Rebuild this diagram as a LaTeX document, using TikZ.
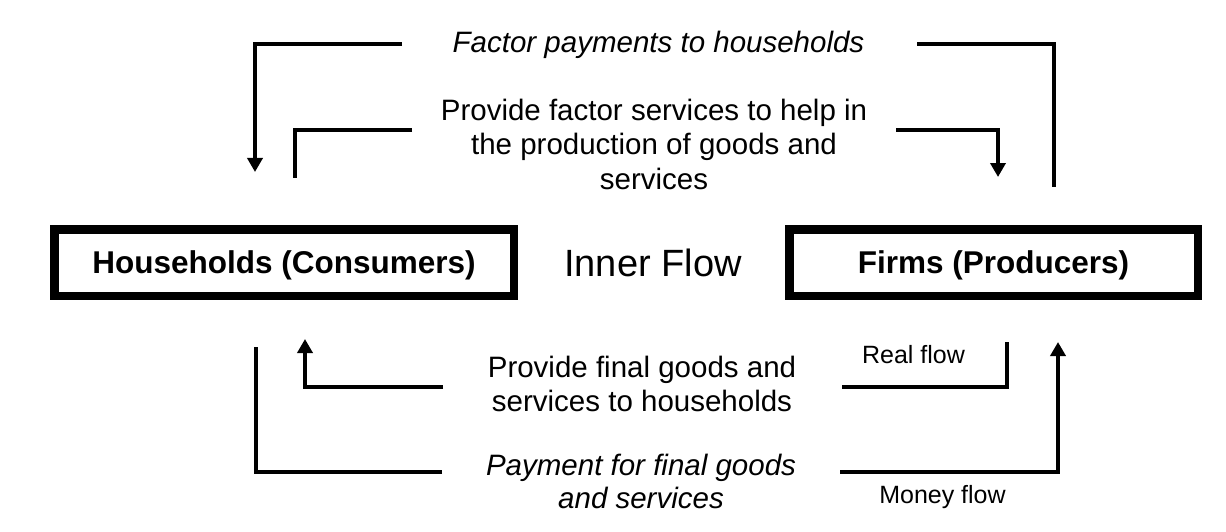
\documentclass[tikz,border=0pt]{standalone}
\usepackage{fontspec}
\setmainfont{Liberation Sans}
\usetikzlibrary{arrows.meta}
\begin{document}
\begin{tikzpicture}[x=1pt,y=-1pt,
  flow/.style={line width=4.5pt,line join=miter},
  arr/.style={flow,-{Triangle[width=15pt,length=14pt]}},
  agent/.style={draw,line width=8.5pt,minimum height=66.5pt,inner sep=0pt,
    font=\fontsize{31.5}{36}\selectfont\bfseries,text height=22.6pt,text depth=0pt},
  lbl/.style={inner sep=0pt,align=center,font=\fontsize{29.5}{34.5}\selectfont},
  ilbl/.style={lbl,font=\fontsize{29.5}{33}\selectfont\itshape},
  small/.style={inner sep=0pt,font=\fontsize{25}{30}\selectfont}]
\useasboundingbox (0,0) rectangle (1226,532);
% boxes
\node[agent,minimum width=459.5pt] (hh) at (284,262.5) {Households (Consumers)};
\node[agent,minimum width=408.5pt] (firms) at (993.5,262.5) {Firms (Producers)};
\node[inner sep=0pt,anchor=base,font=\fontsize{38}{44}\selectfont] (inner) at (653,276) {Inner Flow};
% labels
\node[ilbl,anchor=base] (fp) at (658.5,53) {Factor payments to households};
\node[lbl,anchor=north] (fs) at (654,98.5) {Provide factor services to help in\\the production of goods and\\services};
\node[lbl,anchor=north] (fg) at (642,355.5) {Provide final goods and\\services to households};
\node[ilbl,anchor=north] (pf) at (641,453.5) {Payment for final goods\\and services};
\node[small,anchor=base] (rf) at (913.5,363) {Real flow};
\node[small,anchor=base] (mf) at (942.5,503) {Money flow};
% free ends of connectors
\coordinate (a1) at (402,44);  \coordinate (a2) at (255,172);
\coordinate (b1) at (917,44);  \coordinate (b2) at (1054,187);
\coordinate (c1) at (412,130); \coordinate (c2) at (295,178);
\coordinate (d1) at (896,130); \coordinate (d2) at (998,177);
\coordinate (e1) at (443,387); \coordinate (e2) at (305,339);
\coordinate (f1) at (842,387); \coordinate (f2) at (1007,342);
\coordinate (g1) at (442,472); \coordinate (g2) at (256,347);
\coordinate (h1) at (840,472); \coordinate (h2) at (1058,342);
% connectors
\draw[arr]  (a1) -| (a2);
\draw[flow] (b1) -| (b2);
\draw[flow] (c1) -| (c2);
\draw[arr]  (d1) -| (d2);
\draw[arr]  (e1) -| (e2);
\draw[flow] (f1) -| (f2);
\draw[flow] (g1) -| (g2);
\draw[arr]  (h1) -| (h2);
\end{tikzpicture}
\end{document}
